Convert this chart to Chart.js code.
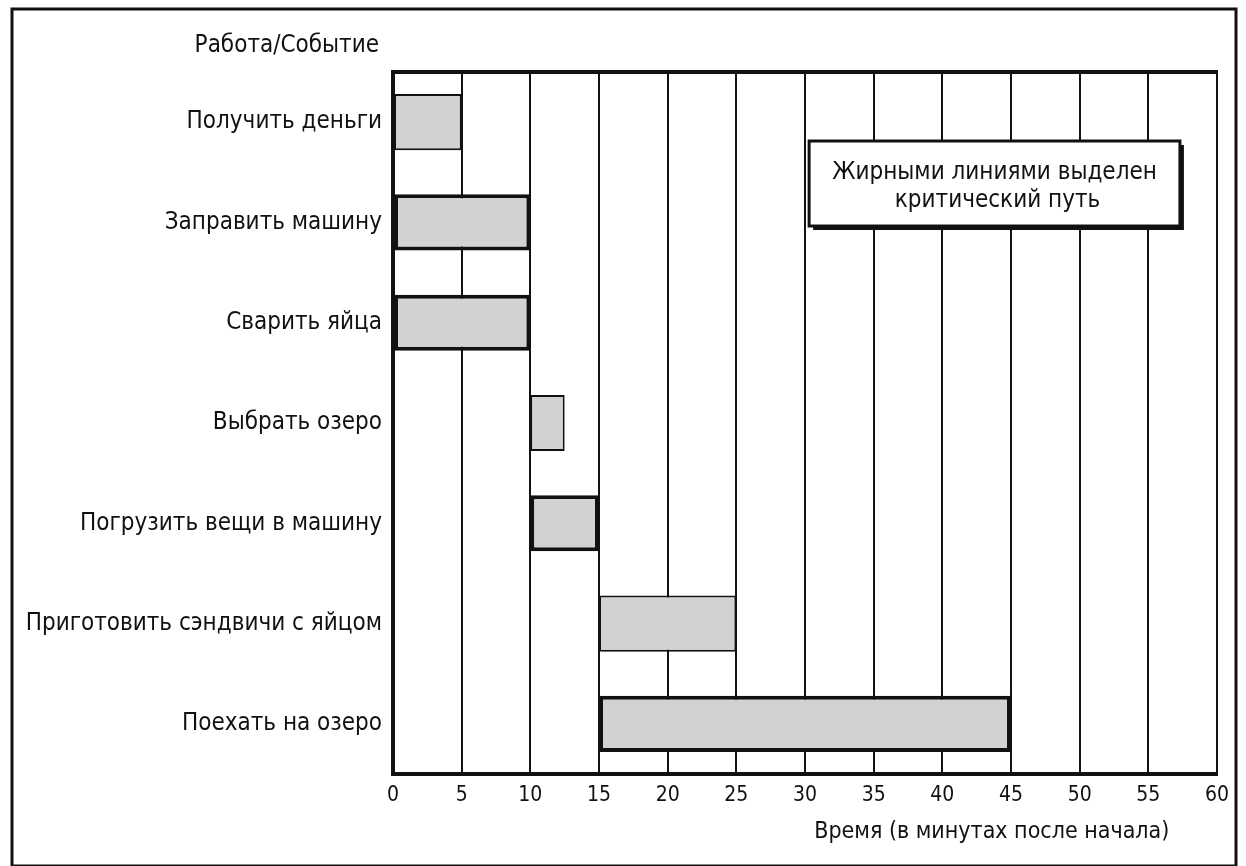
<!DOCTYPE html>
<html>
<head>
<meta charset="utf-8">
<script src="https://cdn.jsdelivr.net/npm/chart.js@4/dist/chart.umd.min.js"></script>
<style>
    html, body { margin: 0; padding: 0; background: #fff; }
    #wrap { width: 1246px; height: 866px; }
</style>
</head>
<body>
<div id="wrap"><canvas id="gantt" width="1246" height="866"></canvas></div>
<script>
// tasks, top to bottom
const tasks = [
    "Получить деньги",
    "Заправить машину",
    "Сварить яйца",
    "Выбрать озеро",
    "Погрузить вещи в машину",
    "Приготовить сэндвичи с яйцом",
    "Поехать на озеро"
];
const startMin = [0, 0, 0, 10, 10, 15, 15];
const endMin = [5, 10, 10, 12.5, 15, 25, 45];
// critical path drawn with bold outline
const critical = [false, true, true, false, true, false, true];
const xTicks = [0, 5, 10, 15, 20, 25, 30, 35, 40, 45, 50, 55, 60];

const yTitle = "Работа/Событие";
const xTitle = "Время (в минутах после начала)";
const noteLines = ["Жирными линиями выделен", "критический путь"];

const FONT = "'Liberation Sans Narrow', 'DejaVu Sans Condensed', 'Liberation Sans', sans-serif";

// frame, top border, titles and the note box
const decorPlugin = {
    id: "decor",
    afterDraw(chart) {
        const ctx = chart.ctx;
        const a = chart.chartArea;
        const xs = chart.scales.x;
        ctx.save();
        // outer frame
        ctx.strokeStyle = "#111";
        ctx.lineWidth = 3;
        ctx.strokeRect(12, 9, 1224, 857);
        // top edge of the plot
        ctx.lineWidth = 4;
        ctx.beginPath();
        ctx.moveTo(a.left - 2, a.top);
        ctx.lineTo(a.right + 1, a.top);
        ctx.stroke();

        ctx.fillStyle = "#111";
        ctx.font = "24px " + FONT;
        ctx.textBaseline = "middle";
        ctx.textAlign = "right";
        ctx.fillText(yTitle, a.left - 14, 46);
        ctx.textAlign = "center";
        ctx.font = "23px " + FONT;
        ctx.fillText(xTitle, xs.getPixelForValue(43.6), 832);

        // note box with drop shadow
        const bx = xs.getPixelForValue(30.3);
        const bw = xs.getPixelForValue(57.3) - bx;
        const by = 141, bh = 85;
        ctx.fillStyle = "#111";
        ctx.fillRect(bx + 4, by + 4, bw, bh);
        ctx.fillStyle = "#fff";
        ctx.fillRect(bx, by, bw, bh);
        ctx.lineWidth = 3;
        ctx.strokeRect(bx, by, bw, bh);
        ctx.fillStyle = "#111";
        ctx.font = "24px " + FONT;
        ctx.fillText(noteLines[0], bx + bw / 2, by + 32);
        ctx.fillText(noteLines[1], bx + bw / 2 + 3, by + 60);
        ctx.restore();
    }
};

new Chart(document.getElementById("gantt"), {
    type: "bar",
    data: {
        labels: tasks,
        datasets: [{
            data: startMin.map((s, i) => [s, endMin[i]]),
            backgroundColor: "#d2d2d2",
            borderColor: "#111",
            borderWidth: critical.map(c => c ? 4 : 2),
            borderSkipped: false,
            barPercentage: 0.56,
            categoryPercentage: 1.0
        }]
    },
    options: {
        indexAxis: "y",
        responsive: false,
        animation: false,
        layout: { padding: { left: 0, top: 72, right: 29, bottom: 0 } },
        plugins: {
            legend: { display: false },
            tooltip: { enabled: false },
            title: { display: false }
        },
        scales: {
            x: {
                type: "linear",
                min: 0,
                max: 60,
                afterBuildTicks: s => { s.ticks = xTicks.map(v => ({ value: v })); },
                afterFit: s => { s.height = 92; },
                grid: { color: "#111", lineWidth: 2, drawTicks: false },
                border: { color: "#111", width: 4 },
                ticks: {
                    color: "#111",
                    padding: 9,
                    font: { family: FONT, size: 21 }
                }
            },
            y: {
                afterFit: s => { s.width = 393; },
                grid: { display: false, drawTicks: false },
                border: { color: "#111", width: 4 },
                ticks: {
                    color: "#111",
                    padding: 11,
                    font: { family: FONT, size: 24 }
                }
            }
        }
    },
    plugins: [decorPlugin]
});
</script>
</body>
</html>
